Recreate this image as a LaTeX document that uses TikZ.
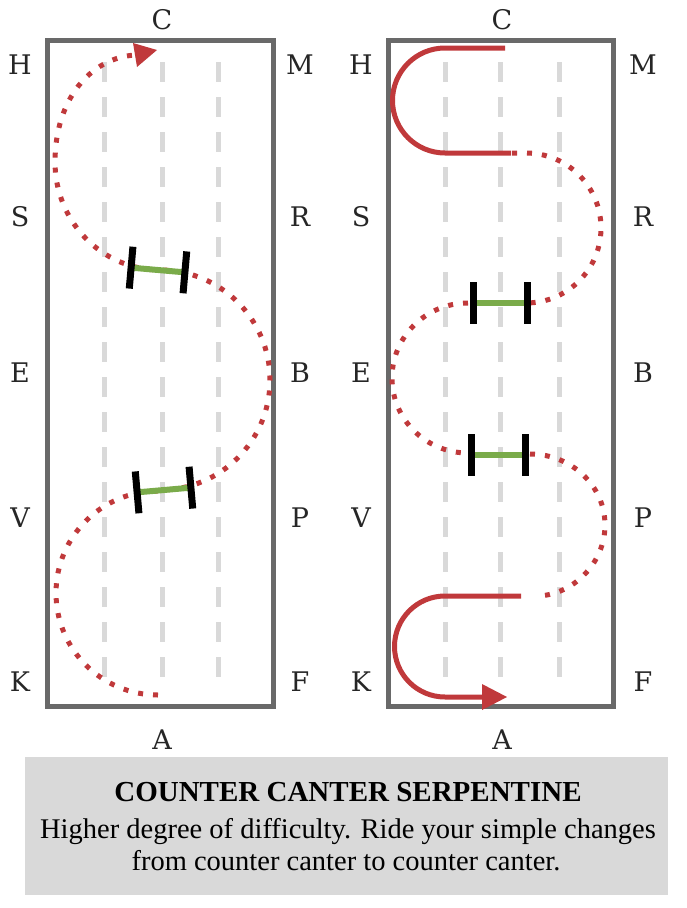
\documentclass[tikz,border=0pt]{standalone}
\usepackage{fontspec}
\setmainfont{Liberation Serif}
\newfontfamily\markerfont{DejaVu Serif}
\definecolor{trackred}{HTML}{C0393B}
\definecolor{railgray}{HTML}{696969}
\definecolor{lanegray}{HTML}{D9D9D9}
\definecolor{changegreen}{HTML}{7AAB4A}
\definecolor{capgray}{HTML}{D9D9D9}
\begin{document}
\begin{tikzpicture}[x=1pt, y=-1pt,
    rail/.style={railgray, line width=5pt},
    lane/.style={lanegray, line width=5pt, dash pattern=on 20pt off 15pt},
    track/.style={trackred, line width=5pt, dash pattern=on 5pt off 10pt},
    turn/.style={trackred, line width=5pt},
    change/.style={changegreen, line width=6pt},
    tick/.style={black, line width=7pt},
    letter/.style={font=\markerfont\fontsize{27}{27}\selectfont, text=black!85, inner sep=0pt}]
    \useasboundingbox (0,0) rectangle (686,908);

    % Quarter lines
    \foreach \x in {104,162,218,445,500,559}
        \draw[lane] (\x,62) -- (\x,682);

    % Arenas
    \draw[rail] (47,40) rectangle (273,706);
    \draw[rail] (388,40) rectangle (613,706);

    % Letters
    \foreach \w/\e/\y in {H/M/65, S/R/217, E/B/373, V/P/518, K/F/682} {
        \node[letter] (L\w) at (20,\y) {\w};
        \node[letter] (L\e) at (300,\y) {\e};
        \node[letter] (R\w) at (361,\y) {\w};
        \node[letter] (R\e) at (643,\y) {\e};
    }
    \node[letter] (LC) at (162,20) {C};
    \node[letter] (LA) at (162,740) {A};
    \node[letter] (RC) at (502,20) {C};
    \node[letter] (RA) at (502,740) {A};

    % Left: serpentine on counter canter
    \draw[track] (158,695)
        .. controls (101.7,695) and (56,649.3) .. (56,593)
        .. controls (56,536.7) and (101.7,491) .. (158,491)
        -- (160,490)
        .. controls (220.8,490) and (270,440.8) .. (270,380)
        .. controls (270,319.2) and (220.8,270) .. (160,270)
        .. controls (102,270) and (55,221.6) .. (55,162)
        .. controls (55,100) and (90,58) .. (135,55);
    \fill[trackred] (133,43) -- (157,50) -- (137,67) -- cycle;

    % Right: half circles and loops
    \draw[turn] (505,48) -- (445,48)
        .. controls (416,48) and (392.5,71.5) .. (392.5,100.5)
        .. controls (392.5,129.5) and (416,153) .. (445,153) -- (511,153);
    \draw[track] (512,153) -- (526,153)
        .. controls (567.4,153) and (601,186.6) .. (601,228)
        .. controls (601,269.4) and (567.4,303) .. (526,303);
    \draw[track] (468,303)
        .. controls (426,303) and (392,336.6) .. (392,378)
        .. controls (392,419.4) and (426,453) .. (468,453);
    \draw[track] (530,454)
        .. controls (571.4,454) and (605,485.8) .. (605,525)
        .. controls (605,564.2) and (571.4,596) .. (536,596);
    \draw[turn] (521,596) -- (445,596)
        .. controls (417.1,596) and (394.5,618.6) .. (394.5,646.5)
        .. controls (394.5,674.4) and (417.1,697) .. (445,697) -- (484,697);
    \fill[trackred] (482,684) -- (507,697) -- (482,710) -- cycle;

    % Simple changes
    \foreach \cx/\cy/\ang in {158/270/-5, 164/490/5, 500/303/0, 498/455/0} {
        \begin{scope}[shift={(\cx,\cy)}, rotate=\ang]
            \draw[change] (-25,0) -- (25,0);
            \draw[tick] (-27,-21) -- (-27,21);
            \draw[tick] (27,-21) -- (27,21);
        \end{scope}
    }

    % Caption
    \fill[capgray] (25,757) rectangle (668,895);
    \node[anchor=base, font=\bfseries\fontsize{29}{29}\selectfont] (title) at (348,801) {COUNTER CANTER SERPENTINE};
    \node[anchor=base, font=\fontsize{28.5}{28.5}\selectfont] (line1) at (348,838) {Higher degree of difficulty. Ride your simple changes};
    \node[anchor=base, font=\fontsize{28.5}{28.5}\selectfont] (line2) at (346,870) {from counter canter to counter canter.};
\end{tikzpicture}
\end{document}
